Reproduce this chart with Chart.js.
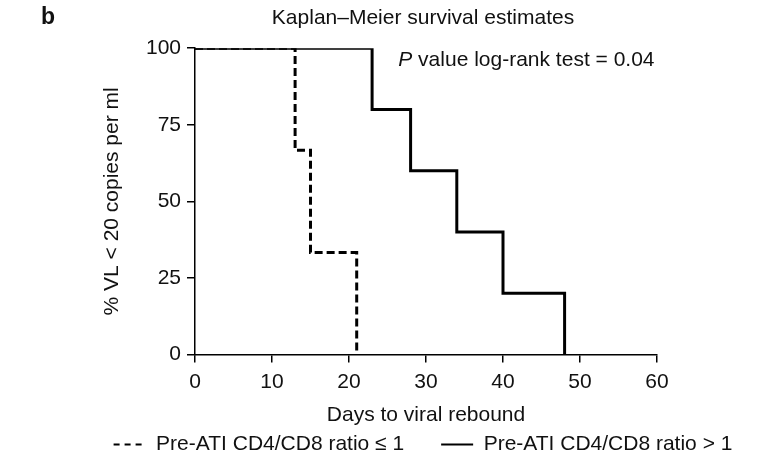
<!DOCTYPE html>
<html>
<head>
<meta charset="utf-8">
<script src="https://cdn.jsdelivr.net/npm/chart.js@4/dist/chart.umd.min.js"></script>
<style>
  html, body { margin: 0; padding: 0; background: #fff; }
  #wrap { position: relative; width: 764px; height: 462px; }
</style>
</head>
<body>
<div id="wrap"><canvas id="km"></canvas></div>
<script>
const ctx = document.getElementById('km');

// datos
const diasBajo = [0, 13, 15, 21];
const survBajo = [100, 66.7, 33.3, 0];
const diasAlto = [0, 23, 28, 34, 40, 48];
const survAlto = [100, 80, 60, 40, 20, 0];
const xTicks = [0, 10, 20, 30, 40, 50, 60];
const yTicks = [0, 25, 50, 75, 100];
const etiquetas = ['Pre-ATI CD4/CD8 ratio \u2264 1', 'Pre-ATI CD4/CD8 ratio > 1'];

const FONT = '"Liberation Sans", Arial, Helvetica, sans-serif';
Chart.defaults.font.family = FONT;
Chart.defaults.font.size = 21;
Chart.defaults.color = '#111';

function puntos(xs, ys) {
    return xs.map((x, i) => ({ x: x, y: ys[i] }));
}

// texto "b" y P value
const textos = {
    id: 'textos',
    afterDraw(chart) {
        const c = chart.ctx;
        const sx = chart.scales.x;
        const sy = chart.scales.y;
        c.save();
        c.fillStyle = '#111';
        c.textBaseline = 'middle';
        c.font = 'bold 23px ' + FONT;
        c.fillText('b', 41, 18);
        const px = sx.getPixelForValue(26.4);
        const py = sy.getPixelForValue(96);
        c.font = 'italic 21px ' + FONT;
        c.fillText('P', px, py);
        const w = c.measureText('P').width;
        c.font = '21px ' + FONT;
        c.fillText(' value log-rank test = 0.04', px + w, py);
        c.restore();
    }
};

new Chart(ctx, {
    type: 'line',
    data: {
        datasets: [{
            label: etiquetas[0] + '      ',
            data: puntos(diasBajo, survBajo),
            borderColor: '#000',
            backgroundColor: '#000',
            borderWidth: 3,
            borderDash: [8, 4],
            stepped: 'before',
            pointRadius: 0,
            fill: false
        }, {
            label: etiquetas[1],
            data: puntos(diasAlto, survAlto),
            borderColor: '#000',
            backgroundColor: '#000',
            borderWidth: 3,
            stepped: 'before',
            pointRadius: 0,
            fill: false
        }]
    },
    options: {
        responsive: true,
        maintainAspectRatio: false,
        animation: false,
        layout: { padding: { left: 96, right: 14, top: 0, bottom: -3 } },
        scales: {
            x: {
                type: 'linear',
                min: 0,
                max: 60,
                afterBuildTicks: s => { s.ticks = xTicks.map(v => ({ value: v })); },
                grid: { drawOnChartArea: false, drawTicks: true, tickLength: 8, color: '#000', lineWidth: 1.5 },
                border: { display: true, color: '#000', width: 1.5 },
                ticks: { padding: 7, color: '#111' },
                title: { display: true, text: 'Days to viral rebound', color: '#111', padding: { top: 1, bottom: 4 } }
            },
            y: {
                min: 0,
                max: 100,
                afterBuildTicks: s => { s.ticks = yTicks.map(v => ({ value: v })); },
                afterFit: s => { s.width = 99; },
                grid: { drawOnChartArea: false, drawTicks: true, tickLength: 8, color: '#000', lineWidth: 1.5 },
                border: { display: true, color: '#000', width: 1.5 },
                ticks: { padding: 6, color: '#111' },
                title: { display: true, text: '% VL < 20 copies per ml', color: '#111', padding: { top: 4, bottom: 4 } }
            },
            derecha: {
                position: 'right',
                display: true,
                afterFit: s => { s.width = 93; },
                grid: { display: false },
                border: { display: false },
                ticks: { display: false }
            }
        },
        plugins: {
            title: {
                display: true,
                text: 'Kaplan\u2013Meier survival estimates',
                color: '#111',
                font: { size: 21, weight: 'normal' },
                padding: { top: 6, bottom: 17 }
            },
            legend: {
                position: 'bottom',
                labels: {
                    usePointStyle: true,
                    pointStyle: 'line',
                    pointStyleWidth: 32,
                    padding: 2,
                    color: '#111',
                    font: { size: 21 },
                    generateLabels: chart => {
                        const items = Chart.defaults.plugins.legend.labels.generateLabels(chart);
                        items.forEach((it, i) => {
                            it.lineWidth = 2;
                            it.pointStyle = 'line';
                            it.lineDash = i === 0 ? [6, 5] : [];
                        });
                        return items;
                    }
                }
            },
            tooltip: { enabled: false }
        }
    },
    plugins: [textos]
});
</script>
</body>
</html>
